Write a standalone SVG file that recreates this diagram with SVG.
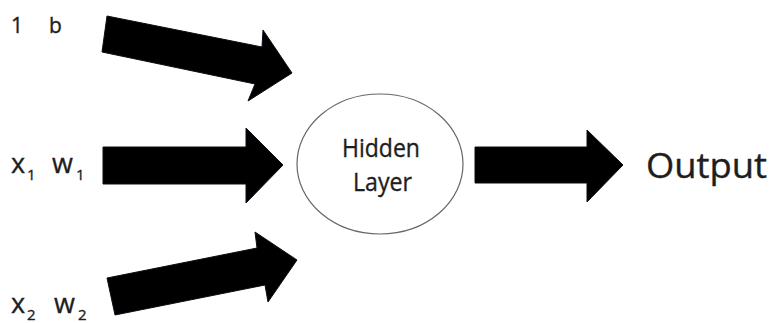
<svg xmlns="http://www.w3.org/2000/svg" width="773" height="323" viewBox="0 0 773 323">
  <style>
    .lbl { font-family: "Open Sans", "Liberation Sans", sans-serif; fill: #1e1e1e; stroke: #1e1e1e; stroke-width: 0.35; }
    .in { font-size: 27px; }
    .sub { font-size: 15px; }
    .arrow { fill: #000; stroke: #0d0d1a; stroke-width: 1; stroke-linejoin: miter; }
    .node { fill: #fff; stroke: #666; stroke-width: 1.2; }
  </style>

  <!-- input labels -->
  <g id="input-bias">
    <text class="lbl" x="11" y="33" font-size="21">1</text>
    <text class="lbl" x="49" y="33" font-size="21">b</text>
  </g>
  <g id="input-x1">
    <text class="lbl in" x="11" y="173">x</text>
    <text class="lbl sub" x="27" y="180">1</text>
    <text class="lbl in" x="52" y="173">w</text>
    <text class="lbl sub" x="76" y="180">1</text>
  </g>
  <g id="input-x2">
    <text class="lbl in" x="11" y="313">x</text>
    <text class="lbl sub" x="27" y="320">2</text>
    <text class="lbl in" x="54" y="313">w</text>
    <text class="lbl sub" x="78" y="320">2</text>
  </g>

  <!-- hidden layer node -->
  <g id="hidden-layer">
    <ellipse class="node" cx="380" cy="164" rx="83" ry="70"/>
    <text class="lbl" x="342" y="157" font-size="25" textLength="78" lengthAdjust="spacingAndGlyphs">Hidden</text>
    <text class="lbl" x="353" y="191" font-size="25" textLength="59" lengthAdjust="spacingAndGlyphs">Layer</text>
  </g>

  <!-- output node -->
  <g id="output">
    <text class="lbl" x="646" y="178" font-size="34" textLength="121" lengthAdjust="spacingAndGlyphs">Output</text>
  </g>

  <!-- block arrows -->
  <g id="connectors">
    <polygon class="arrow" points="107,16 262,47 263,30 292,73 248,101 255,84 102,52"/>
    <polygon class="arrow" points="103,147 246,147 246,128 283,165 246,203 246,184 103,184"/>
    <polygon class="arrow" points="107,278 257,248 255,232 297,260 268,302 265,285 115,315"/>
    <polygon class="arrow" points="475,147 587,147 587,130 623,165 587,202 587,183 475,183"/>
  </g>
</svg>
